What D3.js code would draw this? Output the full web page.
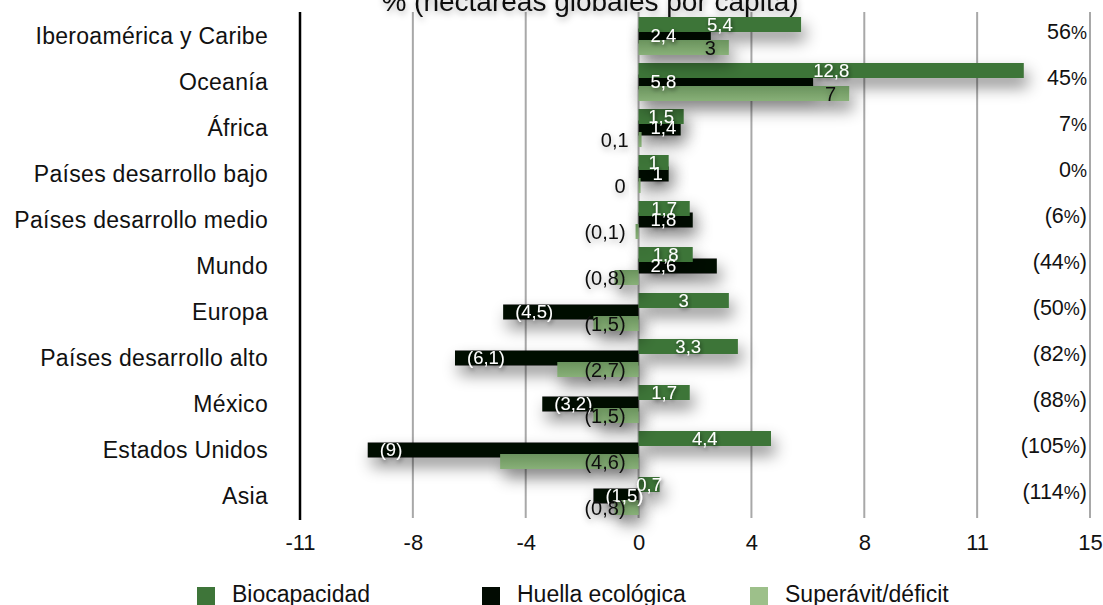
<!DOCTYPE html>
<html><head><meta charset="utf-8">
<script src="https://cdn.jsdelivr.net/npm/d3@7"></script>
<style>body{margin:0;background:#fff;overflow:hidden} text{font-family:"Liberation Sans",Arial,Helvetica,sans-serif}</style>
</head><body><svg id="c" width="1103" height="605"></svg>
<script>
const categories = ["Iberoamérica y Caribe","Oceanía","África","Países desarrollo bajo","Países desarrollo medio","Mundo","Europa","Países desarrollo alto","México","Estados Unidos","Asia"];
const biocapacidad = [5.4, 12.8, 1.5, 1, 1.7, 1.8, 3, 3.3, 1.7, 4.4, 0.7];
const huella = [2.4, 5.8, 1.4, 1, 1.8, 2.6, -4.5, -6.1, -3.2, -9, -1.5];
const superavit = [3, 7, 0.1, 0, -0.1, -0.8, -1.5, -2.7, -1.5, -4.6, -0.8];
const porcentajes = ["56%","45%","7%","0%","(6%)","(44%)","(50%)","(82%)","(88%)","(105%)","(114%)"];
const tickValues = [-11.25, -7.5, -3.75, 0, 3.75, 7.5, 11.25, 15];
const tickLabels = ["-11","-8","-4","0","4","8","11","15"];
const seriesNames = ["Biocapacidad","Huella ecológica","Superávit/déficit"];
const title = "% (hectáreas globales por cápita)";

const svg = d3.select("#c");
const defs = svg.append("defs");
const sh = defs.append("filter").attr("id","bsh").attr("x","-20%").attr("y","-100%").attr("width","140%").attr("height","400%");
sh.append("feDropShadow").attr("dx",4).attr("dy",9).attr("stdDeviation",8).attr("flood-color","#000").attr("flood-opacity",0.45);
const tsh = defs.append("filter").attr("id","tsh").attr("x","-30%").attr("y","-50%").attr("width","160%").attr("height","200%");
tsh.append("feDropShadow").attr("dx",1).attr("dy",2).attr("stdDeviation",2).attr("flood-color","#000").attr("flood-opacity",0.6);
const tsh2 = defs.append("filter").attr("id","tsh2").attr("x","-30%").attr("y","-50%").attr("width","160%").attr("height","200%");
tsh2.append("feDropShadow").attr("dx",1).attr("dy",3).attr("stdDeviation",3).attr("flood-color","#000").attr("flood-opacity",0.3);
const g1 = defs.append("linearGradient").attr("id","supg").attr("x1",0).attr("y1",0).attr("x2",0).attr("y2",1);
g1.append("stop").attr("offset","0%").attr("stop-color","#6a935d");
g1.append("stop").attr("offset","100%").attr("stop-color","#88b078");

const x = d3.scaleLinear().domain([-11.25, 15]).range([300, 1090]);
const y = d3.scaleBand().domain(categories).range([12, 518]);
const barH = 15;
const fmt = v => { const s = String(Math.abs(v)).replace(".", ","); return v < 0 ? "(" + s + ")" : s; };

// gridlines
svg.append("g").selectAll("line").data(tickValues.slice(1)).join("line")
  .attr("x1", d => x(d)).attr("x2", d => x(d)).attr("y1", 12).attr("y2", 518)
  .attr("stroke", "#a8a8a8").attr("stroke-width", 2);
svg.append("line").attr("x1", x(-11.25)).attr("x2", x(-11.25)).attr("y1", 12).attr("y2", 520)
  .attr("stroke", "#000").attr("stroke-width", 2.5);

// title
svg.append("text").attr("x", 590).attr("y", 11).attr("text-anchor","middle")
  .attr("font-size", 28).attr("fill","#111").attr("filter","url(#tsh2)").text(title);

// x tick labels
const xAxis = d3.axisBottom(x).tickValues(tickValues).tickFormat((d,i) => tickLabels[i]).tickSize(0).tickPadding(0);
const ax = svg.append("g").attr("transform","translate(0,534)").call(xAxis);
ax.select(".domain").remove();
ax.selectAll("text").attr("font-size", 22).attr("fill","#111").attr("font-family","Liberation Sans, Arial, sans-serif");

// category labels
svg.append("g").selectAll("text").data(categories).join("text")
  .attr("x", 268).attr("y", d => y(d) + y.bandwidth()/2 + 9)
  .attr("text-anchor","end").attr("font-size", 23).attr("letter-spacing", 0.3).attr("fill","#111").text(d => d);

const rows = categories.map((c,i) => ({c, b: biocapacidad[i], h: huella[i], s: superavit[i], p: porcentajes[i]}));
const offB = 5, offH = 16.5, offS = 28;

// bars: huella first, then bio and superavit on top
const gH = svg.append("g").attr("filter","url(#bsh)");
gH.selectAll("rect").data(rows).join("rect")
  .attr("x", d => x(Math.min(0,d.h))).attr("width", d => Math.abs(x(d.h)-x(0)))
  .attr("y", d => y(d.c)+offH).attr("height", barH).attr("fill","#020b02");
const gB = svg.append("g").attr("filter","url(#bsh)");
gB.selectAll("rect").data(rows).join("rect")
  .attr("x", d => x(Math.min(0,d.b))).attr("width", d => Math.abs(x(d.b)-x(0)))
  .attr("y", d => y(d.c)+offB).attr("height", barH).attr("fill","#3e7539");
const gS = svg.append("g").attr("filter","url(#bsh)");
gS.selectAll("rect").data(rows).join("rect")
  .attr("x", d => x(Math.min(0,d.s))).attr("width", d => Math.max(2, Math.abs(x(d.s)-x(0))))
  .attr("y", d => y(d.c)+offS).attr("height", barH).attr("fill","url(#supg)");

// value labels
const lfs = 18.5;
svg.append("g").selectAll("text").data(rows).join("text")
  .attr("x", d => (x(0)+x(d.b))/2).attr("y", d => y(d.c)+offB+barH/2+6)
  .attr("text-anchor","middle").attr("font-size", lfs).attr("fill","#fff").attr("filter","url(#tsh)").text(d => fmt(d.b));
svg.append("g").selectAll("text").data(rows).join("text")
  .attr("x", d => Math.min(x(0),x(d.h)) + (d.h<0?12:(Math.abs(d.h)<1.2?14:12))).attr("y", d => y(d.c)+offH+barH/2+6)
  .attr("text-anchor","start").attr("font-size", lfs).attr("fill","#fff").attr("filter","url(#tsh)").text(d => fmt(d.h));
svg.append("g").selectAll("text").data(rows).join("text")
  .attr("x", d => Math.max(x(0),x(d.s)) - 13).attr("y", d => y(d.c)+offS+barH/2+7)
  .attr("text-anchor","end").attr("font-size", lfs+1.5).attr("fill","#111").attr("filter","url(#tsh2)").text(d => fmt(d.s));

// percentages
const pt = svg.append("g").selectAll("text").data(rows).join("text")
  .attr("x", 1087).attr("y", d => y(d.c)+y.bandwidth()/2+4)
  .attr("text-anchor","end").attr("font-size", 21.5).attr("fill","#111");
pt.each(function(d){
  const t = d3.select(this);
  const m = d.p.match(/^(\(?)([0-9]+)%(\)?)$/);
  t.append("tspan").text(m[1]+m[2]);
  t.append("tspan").attr("font-size",18).text("%");
  if (m[3]) t.append("tspan").text(m[3]);
});

// legend
const legColors = ["#3e7539","#020b02","#9dc08a"];
const legX = [197, 482, 750];
const lg = svg.append("g").selectAll("g").data(seriesNames).join("g")
  .attr("transform", (d,i) => `translate(${legX[i]},587)`);
lg.append("rect").attr("width",18).attr("height",18).attr("fill",(d,i)=>legColors[i]);
lg.append("text").attr("x",35).attr("y",15).attr("font-size",23).attr("fill","#111").text(d=>d);
</script></body></html>
